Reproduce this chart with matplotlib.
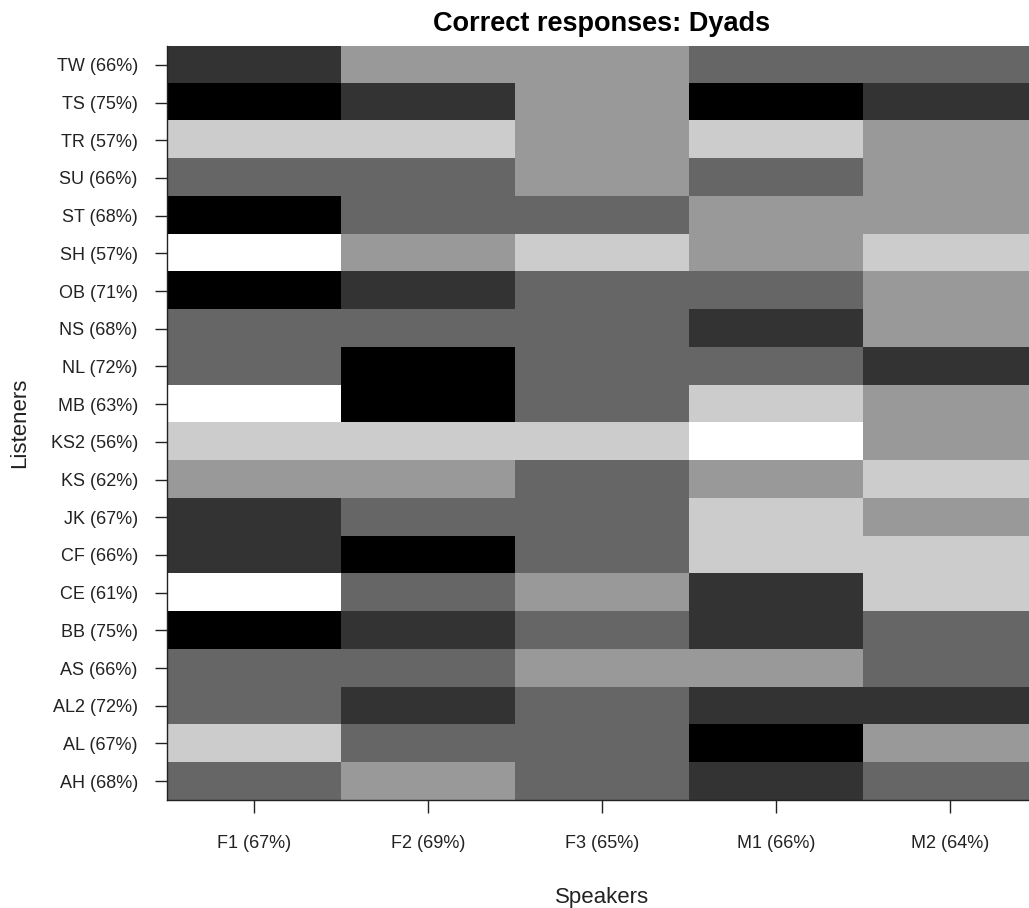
import numpy as np
import matplotlib.pyplot as plt
from matplotlib.colors import ListedColormap

plt.rcParams['font.family'] = ['Liberation Sans', 'DejaVu Sans']

speakers = ["F1 (67%)", "F2 (69%)", "F3 (65%)", "M1 (66%)", "M2 (64%)"]
listeners = ["TW (66%)", "TS (75%)", "TR (57%)", "SU (66%)", "ST (68%)",
             "SH (57%)", "OB (71%)", "NS (68%)", "NL (72%)", "MB (63%)",
             "KS2 (56%)", "KS (62%)", "JK (67%)", "CF (66%)", "CE (61%)",
             "BB (75%)", "AS (66%)", "AL2 (72%)", "AL (67%)", "AH (68%)"]

# score bands per listener (rows, top to bottom) and speaker (columns); 0 = lowest, 5 = highest
scores = [
    [4, 2, 2, 3, 3],
    [5, 4, 2, 5, 4],
    [1, 1, 2, 1, 2],
    [3, 3, 2, 3, 2],
    [5, 3, 3, 2, 2],
    [0, 2, 1, 2, 1],
    [5, 4, 3, 3, 2],
    [3, 3, 3, 4, 2],
    [3, 5, 3, 3, 4],
    [0, 5, 3, 1, 2],
    [1, 1, 1, 0, 2],
    [2, 2, 3, 2, 1],
    [4, 3, 3, 1, 2],
    [4, 5, 3, 1, 1],
    [0, 3, 2, 4, 1],
    [5, 4, 3, 4, 3],
    [3, 3, 2, 2, 3],
    [3, 4, 3, 4, 4],
    [1, 3, 3, 5, 2],
    [3, 2, 3, 4, 3],
]

greys = ListedColormap(["#ffffff", "#cccccc", "#999999", "#666666", "#333333", "#000000"])

fig = plt.figure(figsize=(10.29, 9.08), dpi=100)
ax = fig.add_axes([0.1623, 0.1189, 0.8455, 0.8304])

data = np.array(scores)
nrow, ncol = data.shape
ax.imshow(data, cmap=greys, vmin=-0.5, vmax=5.5, aspect='auto',
          interpolation='nearest', extent=(-0.5, ncol - 0.5, nrow - 0.5, -0.5))

ax.set_xticks(range(ncol))
ax.set_xticklabels(speakers, fontsize=13)
ax.set_yticks(range(nrow))
ax.set_yticklabels(listeners, fontsize=13)
ax.tick_params(axis='x', length=9, width=1, pad=16, colors='#222222', labelcolor='#222222')
ax.tick_params(axis='y', length=9, width=1, pad=12, colors='#222222', labelcolor='#222222')

for side in ['top', 'right']:
    ax.spines[side].set_visible(False)
for side in ['left', 'bottom']:
    ax.spines[side].set_color('#222222')
    ax.spines[side].set_linewidth(1.0)

ax.set_title("Correct responses: Dyads", fontsize=19.5, fontweight='bold', pad=11)
ax.set_xlabel("Speakers", fontsize=16, color='#222222')
ax.set_ylabel("Listeners", fontsize=16, color='#222222')
ax.xaxis.set_label_coords(0.5, -0.1286)
ax.xaxis.label.set_va('center')
ax.yaxis.set_label_coords((20 - 167) / 870, 0.5)
ax.yaxis.label.set_va('center')

fig.savefig("out.png", dpi=100)
